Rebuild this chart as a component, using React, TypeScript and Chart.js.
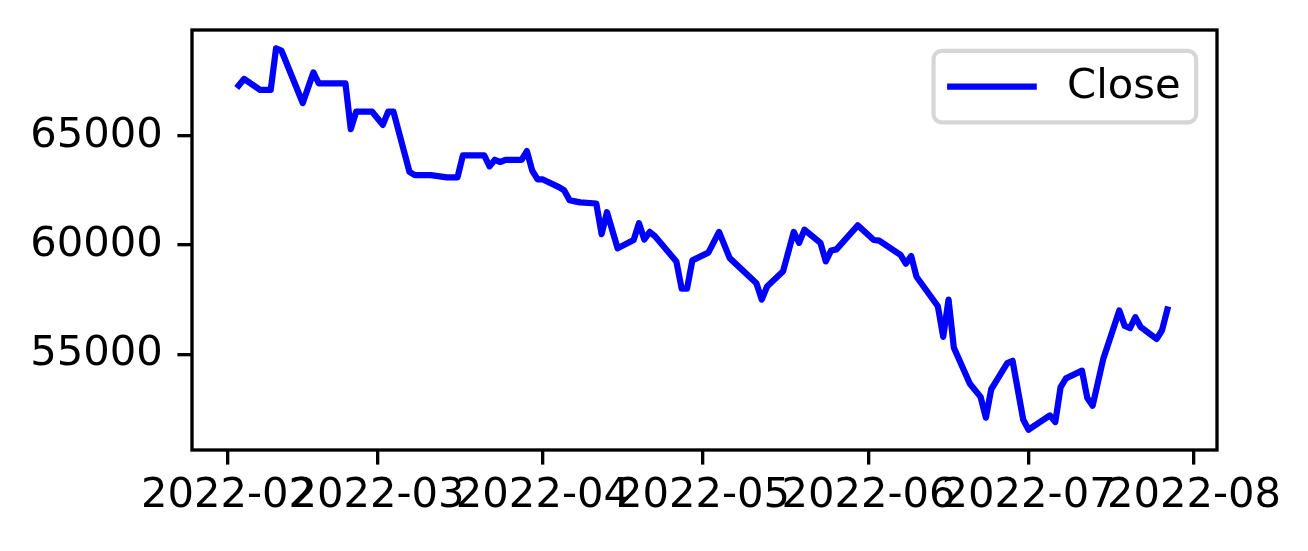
import React, { useEffect, useRef } from 'react';
import { Chart, registerables } from 'chart.js';

Chart.register(...registerables);

// ---- data ----
const dates: string[] = [
  '2022-02-03', '2022-02-04', '2022-02-07', '2022-02-08', '2022-02-09', '2022-02-10', '2022-02-11',
  '2022-02-15', '2022-02-17', '2022-02-18', '2022-02-21', '2022-02-22', '2022-02-23', '2022-02-24',
  '2022-02-25', '2022-02-28',
  '2022-03-02', '2022-03-03', '2022-03-04', '2022-03-07', '2022-03-08', '2022-03-10', '2022-03-11',
  '2022-03-14', '2022-03-15', '2022-03-16', '2022-03-17', '2022-03-18', '2022-03-21', '2022-03-22',
  '2022-03-23', '2022-03-24', '2022-03-25', '2022-03-28', '2022-03-29', '2022-03-30', '2022-03-31',
  '2022-04-01', '2022-04-04', '2022-04-05', '2022-04-06', '2022-04-07', '2022-04-08', '2022-04-11',
  '2022-04-12', '2022-04-13', '2022-04-15', '2022-04-18', '2022-04-19', '2022-04-20', '2022-04-21',
  '2022-04-22', '2022-04-26', '2022-04-27', '2022-04-28', '2022-04-29',
  '2022-05-02', '2022-05-04', '2022-05-06', '2022-05-11', '2022-05-12', '2022-05-13', '2022-05-16',
  '2022-05-18', '2022-05-19', '2022-05-20', '2022-05-23', '2022-05-24', '2022-05-25', '2022-05-26',
  '2022-05-30',
  '2022-06-02', '2022-06-03', '2022-06-07', '2022-06-08', '2022-06-09', '2022-06-10', '2022-06-14',
  '2022-06-15', '2022-06-16', '2022-06-17', '2022-06-20', '2022-06-22', '2022-06-23', '2022-06-24',
  '2022-06-27', '2022-06-28', '2022-06-30',
  '2022-07-01', '2022-07-05', '2022-07-06', '2022-07-07', '2022-07-08', '2022-07-11', '2022-07-12',
  '2022-07-13', '2022-07-15', '2022-07-18', '2022-07-19', '2022-07-20', '2022-07-21', '2022-07-22',
  '2022-07-25', '2022-07-26', '2022-07-27',
];

const closes: number[] = [
  67300, 67600, 67100, 67100, 67100, 69000, 68900,
  66500, 67900, 67400, 67400, 67400, 67400, 65300,
  66100, 66100,
  65500, 66100, 66100, 63350, 63200, 63200, 63200,
  63100, 63100, 63100, 64100, 64100, 64100, 63600,
  63900, 63800, 63900, 63900, 64300, 63400, 63000,
  63000, 62650, 62500, 62050, 62000, 61950, 61900,
  60500, 61500, 59850, 60230, 61000, 60250, 60600,
  60400, 59250, 58000, 58000, 59300,
  59650, 60600, 59400, 58250, 57500, 58100, 58800,
  60600, 60100, 60700, 60100, 59250, 59750, 59800,
  60900,
  60230, 60200, 59550, 59150, 59500, 58550, 57200,
  55800, 57500, 55300, 53650, 53050, 52100, 53400,
  54600, 54700, 52000,
  51550, 52200, 51900, 53500, 53900, 54250, 53000,
  52650, 54800, 57000, 56300, 56200, 56700, 56250,
  55700, 56100, 57050,
];

const seriesLabel = 'Close';
const monthTicks: string[] = [
  '2022-02-01', '2022-03-01', '2022-04-01', '2022-05-01', '2022-06-01', '2022-07-01', '2022-08-01',
];
const yTicks: number[] = [55000, 60000, 65000];

// axis limits (as in the reference)
const xStartDay = '2022-02-01';
const xMinOffsetDays = -6.75;
const xMaxOffsetDays = 185.3;
const yMin = 50620;
const yMax = 69840;

// ---- helpers ----
const DAY = 86400000;
const toMs = (s: string) => Date.parse(s + 'T00:00:00Z');
const fmtMonth = (v: number) => {
  const d = new Date(v);
  return `${d.getUTCFullYear()}-${String(d.getUTCMonth() + 1).padStart(2, '0')}`;
};

const FONT = '"DejaVu Sans", Verdana, sans-serif';
const FS = 41.7;
const SPINE = 3.33;
const TICK_LEN = 14.6;

const framePlugin = {
  id: 'mplFrame',
  afterDatasetsDraw(chart: any) {
    const { ctx, chartArea: a } = chart;
    ctx.save();
    ctx.strokeStyle = '#000';
    ctx.lineWidth = SPINE;
    ctx.lineJoin = 'miter';
    ctx.strokeRect(a.left, a.top, a.right - a.left, a.bottom - a.top);
    ctx.restore();
  },
};

const legendPlugin = {
  id: 'mplLegend',
  afterDraw(chart: any) {
    const { ctx, chartArea: a } = chart;
    const ds = chart.data.datasets[0];
    const pad = 20.85;
    const w = 262.6;
    const h = 71.6;
    const right = a.right - pad;
    const top = a.top + pad;
    const left = right - w;
    const r = 8.3;
    ctx.save();
    ctx.beginPath();
    ctx.moveTo(left + r, top);
    ctx.lineTo(right - r, top);
    ctx.arcTo(right, top, right, top + r, r);
    ctx.lineTo(right, top + h - r);
    ctx.arcTo(right, top + h, right - r, top + h, r);
    ctx.lineTo(left + r, top + h);
    ctx.arcTo(left, top + h, left, top + h - r, r);
    ctx.lineTo(left, top + r);
    ctx.arcTo(left, top, left + r, top, r);
    ctx.closePath();
    ctx.fillStyle = 'rgba(255,255,255,0.8)';
    ctx.fill();
    ctx.strokeStyle = 'rgba(204,204,204,0.8)';
    ctx.lineWidth = 4.17;
    ctx.stroke();

    const cy = top + h / 2;
    const x0 = left + 16.7;
    const x1 = x0 + 83.4;
    ctx.beginPath();
    ctx.moveTo(x0, cy);
    ctx.lineTo(x1, cy);
    ctx.strokeStyle = ds.borderColor;
    ctx.lineWidth = ds.borderWidth;
    ctx.lineCap = 'square';
    ctx.stroke();

    ctx.fillStyle = '#000';
    ctx.font = `${FS}px ${FONT}`;
    ctx.textAlign = 'left';
    ctx.textBaseline = 'middle';
    ctx.fillText(ds.label, x1 + 33.4, cy + 1);
    ctx.restore();
  },
};

export default function App() {
  const canvasRef = useRef<HTMLCanvasElement | null>(null);

  useEffect(() => {
    if (!canvasRef.current) return;
    const base = toMs(xStartDay);
    const points = dates.map((d, i) => ({ x: toMs(d), y: closes[i] }));
    const chart = new Chart(canvasRef.current, {
      type: 'line',
      data: {
        datasets: [
          {
            label: seriesLabel,
            data: points,
            borderColor: '#0000ff',
            backgroundColor: '#0000ff',
            borderWidth: 6.25,
            pointRadius: 0,
            tension: 0,
            borderJoinStyle: 'round',
            borderCapStyle: 'square',
            fill: false,
          },
        ],
      },
      options: {
        responsive: false,
        animation: false,
        devicePixelRatio: 1,
        layout: { padding: { left: 0, right: 91, top: 30, bottom: 0 } },
        plugins: {
          legend: { display: false },
          tooltip: { enabled: false },
        },
        scales: {
          x: {
            type: 'linear',
            min: base + xMinOffsetDays * DAY,
            max: base + xMaxOffsetDays * DAY,
            afterBuildTicks: (scale: any) => {
              scale.ticks = monthTicks.map((m) => ({ value: toMs(m) }));
            },
            afterFit: (scale: any) => {
              scale.height = 101;
              scale.paddingLeft = 0;
              scale.paddingRight = 0;
            },
            ticks: {
              autoSkip: false,
              maxRotation: 0,
              minRotation: 0,
              padding: 7,
              color: '#000',
              font: { family: FONT, size: FS },
              callback: (v: any) => fmtMonth(Number(v)),
            },
            grid: {
              drawOnChartArea: false,
              drawTicks: true,
              tickLength: TICK_LEN,
              tickWidth: SPINE,
              tickColor: '#000',
              lineWidth: SPINE,
              color: '#000',
            },
            border: { display: false },
          },
          y: {
            type: 'linear',
            min: yMin,
            max: yMax,
            afterBuildTicks: (scale: any) => {
              scale.ticks = yTicks.map((v) => ({ value: v }));
            },
            afterFit: (scale: any) => {
              scale.width = 192;
              scale.paddingTop = 0;
              scale.paddingBottom = 0;
            },
            ticks: {
              padding: 14.6,
              color: '#000',
              font: { family: FONT, size: FS },
              callback: (v: any) => String(v),
            },
            grid: {
              drawOnChartArea: false,
              drawTicks: true,
              tickLength: TICK_LEN,
              tickWidth: SPINE,
              tickColor: '#000',
              lineWidth: SPINE,
              color: '#000',
            },
            border: { display: false },
          },
        },
      },
      plugins: [framePlugin, legendPlugin],
    } as any);
    return () => chart.destroy();
  }, []);

  return (
    <div style={{ position: 'absolute', left: 0, top: 0, width: 1308, height: 551, background: '#fff' }}>
      <canvas ref={canvasRef} width={1308} height={551} style={{ display: 'block' }} />
    </div>
  );
}
